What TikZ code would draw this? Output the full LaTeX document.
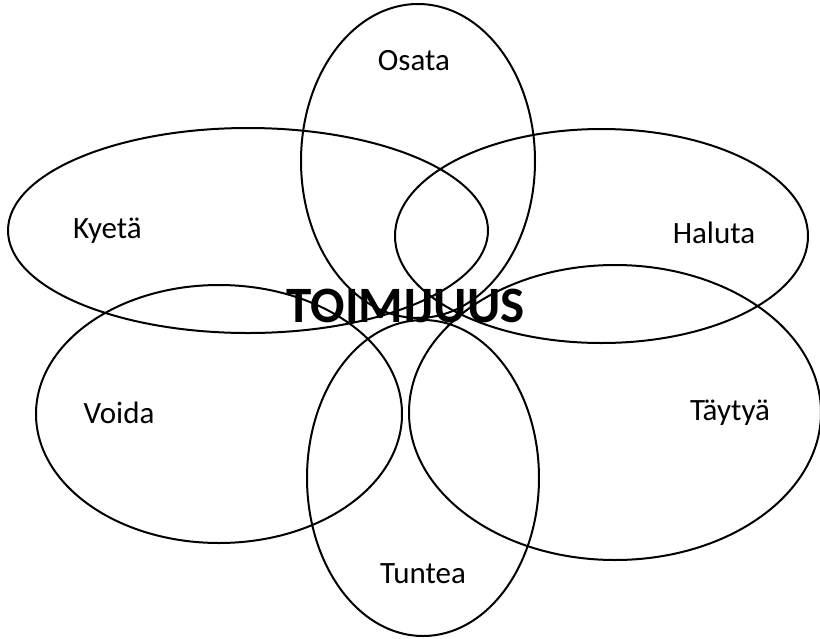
\documentclass[tikz,border=0pt]{standalone}
\usepackage{fontspec}
\setmainfont{Carlito}
\begin{document}
\begin{tikzpicture}[x=1pt,y=-1pt,
  petal/.style={draw=black,line width=2pt},
  lbl/.style={anchor=base,inner sep=0pt,font=\fontsize{31}{36}\selectfont},
  title/.style={anchor=base,inner sep=0pt,font=\bfseries\fontsize{51}{58}\selectfont}]
\useasboundingbox (0,0) rectangle (820,638);
% ellipses
\draw[petal] (418,161) ellipse [x radius=117, y radius=157];   % Osata
\draw[petal] (248,230.5) ellipse [x radius=240, y radius=102.5]; % Kyeta
\draw[petal] (601.5,236) ellipse [x radius=206.5, y radius=107]; % Haluta
\draw[petal] (219,414) ellipse [x radius=183, y radius=129];   % Voida
\draw[petal] (615,412.5) ellipse [x radius=206, y radius=147.5]; % Taytya
\draw[petal] (423,478) ellipse [x radius=116, y radius=158];   % Tuntea
% labels
\node[lbl] (osata) at (414,70) {Osata};
\node[lbl] (kyeta) at (107.5,238) {Kyetä};
\node[lbl] (haluta) at (714,243) {Haluta};
\node[lbl] (voida) at (119,423) {Voida};
\node[lbl] (taytya) at (730,420) {Täytyä};
\node[lbl] (tuntea) at (423,583) {Tuntea};
\node[title] (toimijuus) at (405.5,322) {TOIMIJUUS};
\end{tikzpicture}
\end{document}
